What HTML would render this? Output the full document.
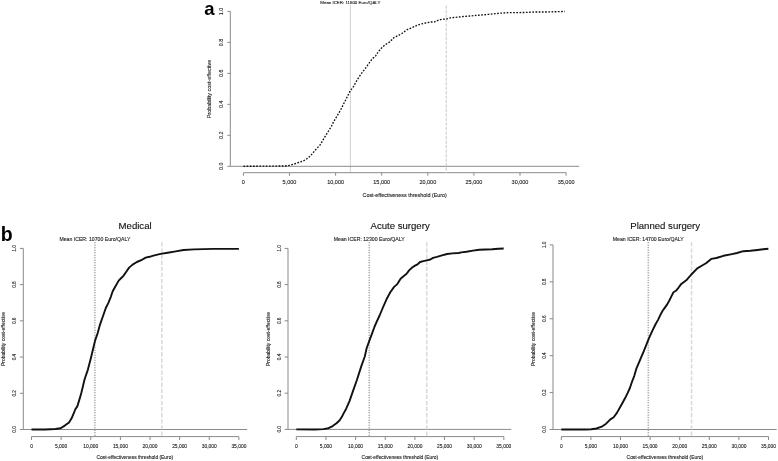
<!DOCTYPE html>
<html><head><meta charset="utf-8"><style>
html,body{margin:0;padding:0;background:#fff;width:778px;height:461px;overflow:hidden;}
svg{display:block;font-family:"Liberation Sans", sans-serif;will-change:transform;}
</style></head><body>
<svg width="778" height="461" viewBox="0 0 778 461">
<line x1="230.30" y1="166.30" x2="579.20" y2="166.30" stroke="#8a8a8a" stroke-width="1" />
<line x1="230.30" y1="11.40" x2="230.30" y2="166.30" stroke="#8a8a8a" stroke-width="1" />
<line x1="227.30" y1="166.30" x2="230.30" y2="166.30" stroke="#8a8a8a" stroke-width="1" />
<text x="221.00" y="166.30" font-size="5.4" text-anchor="middle" fill="#222" font-weight="normal" stroke="#222" stroke-width="0.12" transform="rotate(-90 221.00 166.30)" dominant-baseline="central">0.0</text>
<line x1="227.30" y1="135.32" x2="230.30" y2="135.32" stroke="#8a8a8a" stroke-width="1" />
<text x="221.00" y="135.32" font-size="5.4" text-anchor="middle" fill="#222" font-weight="normal" stroke="#222" stroke-width="0.12" transform="rotate(-90 221.00 135.32)" dominant-baseline="central">0.2</text>
<line x1="227.30" y1="104.34" x2="230.30" y2="104.34" stroke="#8a8a8a" stroke-width="1" />
<text x="221.00" y="104.34" font-size="5.4" text-anchor="middle" fill="#222" font-weight="normal" stroke="#222" stroke-width="0.12" transform="rotate(-90 221.00 104.34)" dominant-baseline="central">0.4</text>
<line x1="227.30" y1="73.36" x2="230.30" y2="73.36" stroke="#8a8a8a" stroke-width="1" />
<text x="221.00" y="73.36" font-size="5.4" text-anchor="middle" fill="#222" font-weight="normal" stroke="#222" stroke-width="0.12" transform="rotate(-90 221.00 73.36)" dominant-baseline="central">0.6</text>
<line x1="227.30" y1="42.38" x2="230.30" y2="42.38" stroke="#8a8a8a" stroke-width="1" />
<text x="221.00" y="42.38" font-size="5.4" text-anchor="middle" fill="#222" font-weight="normal" stroke="#222" stroke-width="0.12" transform="rotate(-90 221.00 42.38)" dominant-baseline="central">0.8</text>
<line x1="227.30" y1="11.40" x2="230.30" y2="11.40" stroke="#8a8a8a" stroke-width="1" />
<text x="221.00" y="11.40" font-size="5.4" text-anchor="middle" fill="#222" font-weight="normal" stroke="#222" stroke-width="0.12" transform="rotate(-90 221.00 11.40)" dominant-baseline="central">1.0</text>
<line x1="243.40" y1="172.70" x2="566.10" y2="172.70" stroke="#8a8a8a" stroke-width="1" />
<line x1="243.40" y1="172.70" x2="243.40" y2="175.70" stroke="#8a8a8a" stroke-width="1" />
<text x="243.40" y="184.40" font-size="5.5" text-anchor="middle" fill="#222" font-weight="normal" stroke="#222" stroke-width="0.12" >0</text>
<line x1="289.50" y1="172.70" x2="289.50" y2="175.70" stroke="#8a8a8a" stroke-width="1" />
<text x="289.50" y="184.40" font-size="5.5" text-anchor="middle" fill="#222" font-weight="normal" stroke="#222" stroke-width="0.12" >5,000</text>
<line x1="335.60" y1="172.70" x2="335.60" y2="175.70" stroke="#8a8a8a" stroke-width="1" />
<text x="335.60" y="184.40" font-size="5.5" text-anchor="middle" fill="#222" font-weight="normal" stroke="#222" stroke-width="0.12" >10,000</text>
<line x1="381.70" y1="172.70" x2="381.70" y2="175.70" stroke="#8a8a8a" stroke-width="1" />
<text x="381.70" y="184.40" font-size="5.5" text-anchor="middle" fill="#222" font-weight="normal" stroke="#222" stroke-width="0.12" >15,000</text>
<line x1="427.80" y1="172.70" x2="427.80" y2="175.70" stroke="#8a8a8a" stroke-width="1" />
<text x="427.80" y="184.40" font-size="5.5" text-anchor="middle" fill="#222" font-weight="normal" stroke="#222" stroke-width="0.12" >20,000</text>
<line x1="473.90" y1="172.70" x2="473.90" y2="175.70" stroke="#8a8a8a" stroke-width="1" />
<text x="473.90" y="184.40" font-size="5.5" text-anchor="middle" fill="#222" font-weight="normal" stroke="#222" stroke-width="0.12" >25,000</text>
<line x1="520.00" y1="172.70" x2="520.00" y2="175.70" stroke="#8a8a8a" stroke-width="1" />
<text x="520.00" y="184.40" font-size="5.5" text-anchor="middle" fill="#222" font-weight="normal" stroke="#222" stroke-width="0.12" >30,000</text>
<line x1="566.10" y1="172.70" x2="566.10" y2="175.70" stroke="#8a8a8a" stroke-width="1" />
<text x="566.10" y="184.40" font-size="5.5" text-anchor="middle" fill="#222" font-weight="normal" stroke="#222" stroke-width="0.12" >35,000</text>
<line x1="350.35" y1="5.40" x2="350.35" y2="172.70" stroke="#a0a0a0" stroke-width="1.0" stroke-dasharray="1 1"/>
<line x1="446.24" y1="5.40" x2="446.24" y2="172.70" stroke="#d0d0d0" stroke-width="1.2" stroke-dasharray="3.3 1.2"/>
<polyline points="243.4,166.3 285.0,166.0 289.9,165.4 293.8,164.2 298.7,162.5 302.6,161.2 305.5,159.7 308.4,157.7 310.9,155.3 313.8,151.9 317.2,147.9 319.7,145.5 322.1,141.6 325.0,136.7 328.0,131.8 331.4,126.3 333.4,122.1 336.9,116.2 340.5,110.2 344.1,103.0 347.1,97.1 350.1,91.1 353.6,86.3 357.0,80.2 361.0,74.0 365.3,68.5 369.1,63.1 372.4,58.7 375.6,56.0 378.3,51.7 382.1,47.4 385.4,44.6 389.7,41.9 394.0,37.6 398.5,35.4 401.9,33.5 405.0,31.2 408.1,29.1 411.2,28.0 414.7,26.4 418.1,24.9 421.2,24.0 424.3,23.3 427.4,22.6 430.9,22.0 434.3,22.0 437.4,20.6 440.5,19.6 444.3,19.1 447.0,18.9 450.5,17.8 457.2,17.2 463.5,16.5 469.8,16.0 476.1,15.4 482.4,14.9 488.7,14.3 495.0,13.7 501.3,13.1 507.6,12.7 518.4,12.6 527.3,12.4 534.3,12.0 545.8,12.0 556.6,11.7 564.8,11.5" fill="none" stroke="#111" stroke-width="1.35" stroke-linejoin="round" stroke-dasharray="1.7 1.5" stroke-linecap="butt"/>
<text x="208.50" y="89.00" font-size="5.4" text-anchor="middle" fill="#222" font-weight="normal" stroke="#222" stroke-width="0.12" transform="rotate(-90 208.50 89.00)" dominant-baseline="central">Probability cost-effective</text>
<text x="404.70" y="196.90" font-size="5.4" text-anchor="middle" fill="#222" font-weight="normal" stroke="#222" stroke-width="0.12" >Cost-effectiveness threshold (Euro)</text>
<text x="350.35" y="4.30" font-size="4.4" text-anchor="middle" fill="#222" font-weight="normal" stroke="#222" stroke-width="0.12" >Mean ICER: 11600 Euro/QALY</text>
<line x1="23.30" y1="429.50" x2="247.10" y2="429.50" stroke="#8a8a8a" stroke-width="1" />
<line x1="23.30" y1="248.40" x2="23.30" y2="429.50" stroke="#8a8a8a" stroke-width="1" />
<line x1="19.90" y1="429.50" x2="23.30" y2="429.50" stroke="#8a8a8a" stroke-width="1" />
<text x="14.20" y="429.50" font-size="4.6" text-anchor="middle" fill="#222" font-weight="normal" stroke="#222" stroke-width="0.12" transform="rotate(-90 14.20 429.50)" dominant-baseline="central">0.0</text>
<line x1="19.90" y1="393.28" x2="23.30" y2="393.28" stroke="#8a8a8a" stroke-width="1" />
<text x="14.20" y="393.28" font-size="4.6" text-anchor="middle" fill="#222" font-weight="normal" stroke="#222" stroke-width="0.12" transform="rotate(-90 14.20 393.28)" dominant-baseline="central">0.2</text>
<line x1="19.90" y1="357.06" x2="23.30" y2="357.06" stroke="#8a8a8a" stroke-width="1" />
<text x="14.20" y="357.06" font-size="4.6" text-anchor="middle" fill="#222" font-weight="normal" stroke="#222" stroke-width="0.12" transform="rotate(-90 14.20 357.06)" dominant-baseline="central">0.4</text>
<line x1="19.90" y1="320.84" x2="23.30" y2="320.84" stroke="#8a8a8a" stroke-width="1" />
<text x="14.20" y="320.84" font-size="4.6" text-anchor="middle" fill="#222" font-weight="normal" stroke="#222" stroke-width="0.12" transform="rotate(-90 14.20 320.84)" dominant-baseline="central">0.6</text>
<line x1="19.90" y1="284.62" x2="23.30" y2="284.62" stroke="#8a8a8a" stroke-width="1" />
<text x="14.20" y="284.62" font-size="4.6" text-anchor="middle" fill="#222" font-weight="normal" stroke="#222" stroke-width="0.12" transform="rotate(-90 14.20 284.62)" dominant-baseline="central">0.8</text>
<line x1="19.90" y1="248.40" x2="23.30" y2="248.40" stroke="#8a8a8a" stroke-width="1" />
<text x="14.20" y="248.40" font-size="4.6" text-anchor="middle" fill="#222" font-weight="normal" stroke="#222" stroke-width="0.12" transform="rotate(-90 14.20 248.40)" dominant-baseline="central">1.0</text>
<line x1="31.50" y1="436.60" x2="238.88" y2="436.60" stroke="#8a8a8a" stroke-width="1" />
<line x1="31.50" y1="436.60" x2="31.50" y2="440.00" stroke="#8a8a8a" stroke-width="1" />
<text x="31.50" y="447.60" font-size="4.9" text-anchor="middle" fill="#222" font-weight="normal" stroke="#222" stroke-width="0.12" >0</text>
<line x1="61.12" y1="436.60" x2="61.12" y2="440.00" stroke="#8a8a8a" stroke-width="1" />
<text x="61.12" y="447.60" font-size="4.9" text-anchor="middle" fill="#222" font-weight="normal" stroke="#222" stroke-width="0.12" >5,000</text>
<line x1="90.75" y1="436.60" x2="90.75" y2="440.00" stroke="#8a8a8a" stroke-width="1" />
<text x="90.75" y="447.60" font-size="4.9" text-anchor="middle" fill="#222" font-weight="normal" stroke="#222" stroke-width="0.12" >10,000</text>
<line x1="120.38" y1="436.60" x2="120.38" y2="440.00" stroke="#8a8a8a" stroke-width="1" />
<text x="120.38" y="447.60" font-size="4.9" text-anchor="middle" fill="#222" font-weight="normal" stroke="#222" stroke-width="0.12" >15,000</text>
<line x1="150.00" y1="436.60" x2="150.00" y2="440.00" stroke="#8a8a8a" stroke-width="1" />
<text x="150.00" y="447.60" font-size="4.9" text-anchor="middle" fill="#222" font-weight="normal" stroke="#222" stroke-width="0.12" >20,000</text>
<line x1="179.62" y1="436.60" x2="179.62" y2="440.00" stroke="#8a8a8a" stroke-width="1" />
<text x="179.62" y="447.60" font-size="4.9" text-anchor="middle" fill="#222" font-weight="normal" stroke="#222" stroke-width="0.12" >25,000</text>
<line x1="209.25" y1="436.60" x2="209.25" y2="440.00" stroke="#8a8a8a" stroke-width="1" />
<text x="209.25" y="447.60" font-size="4.9" text-anchor="middle" fill="#222" font-weight="normal" stroke="#222" stroke-width="0.12" >30,000</text>
<line x1="238.88" y1="436.60" x2="238.88" y2="440.00" stroke="#8a8a8a" stroke-width="1" />
<text x="238.88" y="447.60" font-size="4.9" text-anchor="middle" fill="#222" font-weight="normal" stroke="#222" stroke-width="0.12" >35,000</text>
<line x1="94.90" y1="242.30" x2="94.90" y2="436.60" stroke="#999" stroke-width="1.6" stroke-dasharray="1 1.5"/>
<line x1="161.85" y1="242.30" x2="161.85" y2="436.60" stroke="#d9d9d9" stroke-width="1.5" stroke-dasharray="4.3 1.8"/>
<polyline points="31.5,429.5 45.0,429.5 55.4,429.0 60.6,428.2 64.8,425.6 69.0,422.5 71.6,418.3 74.2,412.1 75.2,409.5 77.3,406.4 79.4,399.6 81.5,392.3 84.6,379.3 87.9,369.6 91.1,357.2 93.1,348.7 95.0,340.9 97.7,333.0 100.0,324.6 102.6,317.2 105.8,308.0 108.4,302.8 111.0,296.3 112.6,291.5 115.2,286.7 118.7,280.6 121.3,278.0 123.4,275.9 126.1,272.0 129.1,267.6 132.6,264.6 136.9,262.0 141.2,260.2 145.6,257.6 149.5,256.8 153.4,255.7 160.6,253.9 167.7,252.7 175.8,251.4 183.5,250.0 194.1,249.4 203.8,249.1 213.4,248.9 227.9,248.9 238.9,248.9" fill="none" stroke="#111" stroke-width="1.9" stroke-linejoin="round" />
<text x="3.10" y="339.00" font-size="5.0" text-anchor="middle" fill="#222" font-weight="normal" stroke="#222" stroke-width="0.12" transform="rotate(-90 3.10 339.00)" dominant-baseline="central">Probability cost-effective</text>
<text x="134.80" y="458.80" font-size="4.9" text-anchor="middle" fill="#222" font-weight="normal" stroke="#222" stroke-width="0.12" >Cost-effectiveness threshold (Euro)</text>
<text x="94.90" y="241.20" font-size="5.17" text-anchor="middle" fill="#222" font-weight="normal" stroke="#222" stroke-width="0.12" >Mean ICER: 10700 Euro/QALY</text>
<text x="135.10" y="229.00" font-size="9.6" text-anchor="middle" fill="#111" font-weight="normal" stroke="#111" stroke-width="0.12" >Medical</text>
<line x1="288.00" y1="429.40" x2="511.30" y2="429.40" stroke="#8a8a8a" stroke-width="1" />
<line x1="288.00" y1="248.40" x2="288.00" y2="429.40" stroke="#8a8a8a" stroke-width="1" />
<line x1="284.60" y1="429.40" x2="288.00" y2="429.40" stroke="#8a8a8a" stroke-width="1" />
<text x="279.40" y="429.40" font-size="4.6" text-anchor="middle" fill="#222" font-weight="normal" stroke="#222" stroke-width="0.12" transform="rotate(-90 279.40 429.40)" dominant-baseline="central">0.0</text>
<line x1="284.60" y1="393.20" x2="288.00" y2="393.20" stroke="#8a8a8a" stroke-width="1" />
<text x="279.40" y="393.20" font-size="4.6" text-anchor="middle" fill="#222" font-weight="normal" stroke="#222" stroke-width="0.12" transform="rotate(-90 279.40 393.20)" dominant-baseline="central">0.2</text>
<line x1="284.60" y1="357.00" x2="288.00" y2="357.00" stroke="#8a8a8a" stroke-width="1" />
<text x="279.40" y="357.00" font-size="4.6" text-anchor="middle" fill="#222" font-weight="normal" stroke="#222" stroke-width="0.12" transform="rotate(-90 279.40 357.00)" dominant-baseline="central">0.4</text>
<line x1="284.60" y1="320.80" x2="288.00" y2="320.80" stroke="#8a8a8a" stroke-width="1" />
<text x="279.40" y="320.80" font-size="4.6" text-anchor="middle" fill="#222" font-weight="normal" stroke="#222" stroke-width="0.12" transform="rotate(-90 279.40 320.80)" dominant-baseline="central">0.6</text>
<line x1="284.60" y1="284.60" x2="288.00" y2="284.60" stroke="#8a8a8a" stroke-width="1" />
<text x="279.40" y="284.60" font-size="4.6" text-anchor="middle" fill="#222" font-weight="normal" stroke="#222" stroke-width="0.12" transform="rotate(-90 279.40 284.60)" dominant-baseline="central">0.8</text>
<line x1="284.60" y1="248.40" x2="288.00" y2="248.40" stroke="#8a8a8a" stroke-width="1" />
<text x="279.40" y="248.40" font-size="4.6" text-anchor="middle" fill="#222" font-weight="normal" stroke="#222" stroke-width="0.12" transform="rotate(-90 279.40 248.40)" dominant-baseline="central">1.0</text>
<line x1="296.30" y1="436.60" x2="503.85" y2="436.60" stroke="#8a8a8a" stroke-width="1" />
<line x1="296.30" y1="436.60" x2="296.30" y2="440.00" stroke="#8a8a8a" stroke-width="1" />
<text x="296.30" y="447.60" font-size="4.9" text-anchor="middle" fill="#222" font-weight="normal" stroke="#222" stroke-width="0.12" >0</text>
<line x1="325.95" y1="436.60" x2="325.95" y2="440.00" stroke="#8a8a8a" stroke-width="1" />
<text x="325.95" y="447.60" font-size="4.9" text-anchor="middle" fill="#222" font-weight="normal" stroke="#222" stroke-width="0.12" >5,000</text>
<line x1="355.60" y1="436.60" x2="355.60" y2="440.00" stroke="#8a8a8a" stroke-width="1" />
<text x="355.60" y="447.60" font-size="4.9" text-anchor="middle" fill="#222" font-weight="normal" stroke="#222" stroke-width="0.12" >10,000</text>
<line x1="385.25" y1="436.60" x2="385.25" y2="440.00" stroke="#8a8a8a" stroke-width="1" />
<text x="385.25" y="447.60" font-size="4.9" text-anchor="middle" fill="#222" font-weight="normal" stroke="#222" stroke-width="0.12" >15,000</text>
<line x1="414.90" y1="436.60" x2="414.90" y2="440.00" stroke="#8a8a8a" stroke-width="1" />
<text x="414.90" y="447.60" font-size="4.9" text-anchor="middle" fill="#222" font-weight="normal" stroke="#222" stroke-width="0.12" >20,000</text>
<line x1="444.55" y1="436.60" x2="444.55" y2="440.00" stroke="#8a8a8a" stroke-width="1" />
<text x="444.55" y="447.60" font-size="4.9" text-anchor="middle" fill="#222" font-weight="normal" stroke="#222" stroke-width="0.12" >25,000</text>
<line x1="474.20" y1="436.60" x2="474.20" y2="440.00" stroke="#8a8a8a" stroke-width="1" />
<text x="474.20" y="447.60" font-size="4.9" text-anchor="middle" fill="#222" font-weight="normal" stroke="#222" stroke-width="0.12" >30,000</text>
<line x1="503.85" y1="436.60" x2="503.85" y2="440.00" stroke="#8a8a8a" stroke-width="1" />
<text x="503.85" y="447.60" font-size="4.9" text-anchor="middle" fill="#222" font-weight="normal" stroke="#222" stroke-width="0.12" >35,000</text>
<line x1="369.24" y1="242.30" x2="369.24" y2="436.60" stroke="#999" stroke-width="1.6" stroke-dasharray="1 1.5"/>
<line x1="426.76" y1="242.30" x2="426.76" y2="436.60" stroke="#d9d9d9" stroke-width="1.5" stroke-dasharray="4.3 1.8"/>
<polyline points="296.3,429.4 315.0,429.5 323.3,429.1 328.5,428.2 332.7,426.1 336.5,423.3 339.5,420.5 341.9,416.8 343.5,413.6 346.2,408.7 349.5,401.1 352.7,391.9 356.8,380.2 361.5,365.6 364.8,356.5 366.7,348.0 369.3,340.9 372.0,333.7 374.6,326.5 377.2,320.7 379.6,315.5 382.5,308.5 386.5,299.3 390.3,292.3 394.1,286.9 397.3,284.1 400.6,278.7 403.8,276.0 406.6,273.8 409.3,270.1 412.5,267.3 415.0,265.6 417.6,264.3 420.1,262.0 423.4,261.1 426.6,260.4 430.4,259.5 433.0,257.9 436.9,256.9 442.0,255.3 447.1,254.0 452.3,253.4 458.7,253.0 461.3,252.4 466.4,251.8 472.9,250.6 479.3,249.8 485.7,249.5 492.1,249.2 498.6,248.7 503.7,248.5" fill="none" stroke="#111" stroke-width="1.9" stroke-linejoin="round" />
<text x="267.80" y="339.00" font-size="5.0" text-anchor="middle" fill="#222" font-weight="normal" stroke="#222" stroke-width="0.12" transform="rotate(-90 267.80 339.00)" dominant-baseline="central">Probability cost-effective</text>
<text x="399.90" y="458.80" font-size="4.9" text-anchor="middle" fill="#222" font-weight="normal" stroke="#222" stroke-width="0.12" >Cost-effectiveness threshold (Euro)</text>
<text x="369.24" y="241.20" font-size="5.17" text-anchor="middle" fill="#222" font-weight="normal" stroke="#222" stroke-width="0.12" >Mean ICER: 12300 Euro/QALY</text>
<text x="400.10" y="229.00" font-size="9.6" text-anchor="middle" fill="#111" font-weight="normal" stroke="#111" stroke-width="0.12" >Acute surgery</text>
<line x1="553.00" y1="429.50" x2="776.70" y2="429.50" stroke="#8a8a8a" stroke-width="1" />
<line x1="553.00" y1="244.90" x2="553.00" y2="429.50" stroke="#8a8a8a" stroke-width="1" />
<line x1="549.60" y1="429.50" x2="553.00" y2="429.50" stroke="#8a8a8a" stroke-width="1" />
<text x="544.40" y="429.50" font-size="4.6" text-anchor="middle" fill="#222" font-weight="normal" stroke="#222" stroke-width="0.12" transform="rotate(-90 544.40 429.50)" dominant-baseline="central">0.0</text>
<line x1="549.60" y1="392.58" x2="553.00" y2="392.58" stroke="#8a8a8a" stroke-width="1" />
<text x="544.40" y="392.58" font-size="4.6" text-anchor="middle" fill="#222" font-weight="normal" stroke="#222" stroke-width="0.12" transform="rotate(-90 544.40 392.58)" dominant-baseline="central">0.2</text>
<line x1="549.60" y1="355.66" x2="553.00" y2="355.66" stroke="#8a8a8a" stroke-width="1" />
<text x="544.40" y="355.66" font-size="4.6" text-anchor="middle" fill="#222" font-weight="normal" stroke="#222" stroke-width="0.12" transform="rotate(-90 544.40 355.66)" dominant-baseline="central">0.4</text>
<line x1="549.60" y1="318.74" x2="553.00" y2="318.74" stroke="#8a8a8a" stroke-width="1" />
<text x="544.40" y="318.74" font-size="4.6" text-anchor="middle" fill="#222" font-weight="normal" stroke="#222" stroke-width="0.12" transform="rotate(-90 544.40 318.74)" dominant-baseline="central">0.6</text>
<line x1="549.60" y1="281.82" x2="553.00" y2="281.82" stroke="#8a8a8a" stroke-width="1" />
<text x="544.40" y="281.82" font-size="4.6" text-anchor="middle" fill="#222" font-weight="normal" stroke="#222" stroke-width="0.12" transform="rotate(-90 544.40 281.82)" dominant-baseline="central">0.8</text>
<line x1="549.60" y1="244.90" x2="553.00" y2="244.90" stroke="#8a8a8a" stroke-width="1" />
<text x="544.40" y="244.90" font-size="4.6" text-anchor="middle" fill="#222" font-weight="normal" stroke="#222" stroke-width="0.12" transform="rotate(-90 544.40 244.90)" dominant-baseline="central">1.0</text>
<line x1="561.30" y1="436.60" x2="768.50" y2="436.60" stroke="#8a8a8a" stroke-width="1" />
<line x1="561.30" y1="436.60" x2="561.30" y2="440.00" stroke="#8a8a8a" stroke-width="1" />
<text x="561.30" y="447.60" font-size="4.9" text-anchor="middle" fill="#222" font-weight="normal" stroke="#222" stroke-width="0.12" >0</text>
<line x1="590.90" y1="436.60" x2="590.90" y2="440.00" stroke="#8a8a8a" stroke-width="1" />
<text x="590.90" y="447.60" font-size="4.9" text-anchor="middle" fill="#222" font-weight="normal" stroke="#222" stroke-width="0.12" >5,000</text>
<line x1="620.50" y1="436.60" x2="620.50" y2="440.00" stroke="#8a8a8a" stroke-width="1" />
<text x="620.50" y="447.60" font-size="4.9" text-anchor="middle" fill="#222" font-weight="normal" stroke="#222" stroke-width="0.12" >10,000</text>
<line x1="650.10" y1="436.60" x2="650.10" y2="440.00" stroke="#8a8a8a" stroke-width="1" />
<text x="650.10" y="447.60" font-size="4.9" text-anchor="middle" fill="#222" font-weight="normal" stroke="#222" stroke-width="0.12" >15,000</text>
<line x1="679.70" y1="436.60" x2="679.70" y2="440.00" stroke="#8a8a8a" stroke-width="1" />
<text x="679.70" y="447.60" font-size="4.9" text-anchor="middle" fill="#222" font-weight="normal" stroke="#222" stroke-width="0.12" >20,000</text>
<line x1="709.30" y1="436.60" x2="709.30" y2="440.00" stroke="#8a8a8a" stroke-width="1" />
<text x="709.30" y="447.60" font-size="4.9" text-anchor="middle" fill="#222" font-weight="normal" stroke="#222" stroke-width="0.12" >25,000</text>
<line x1="738.90" y1="436.60" x2="738.90" y2="440.00" stroke="#8a8a8a" stroke-width="1" />
<text x="738.90" y="447.60" font-size="4.9" text-anchor="middle" fill="#222" font-weight="normal" stroke="#222" stroke-width="0.12" >30,000</text>
<line x1="768.50" y1="436.60" x2="768.50" y2="440.00" stroke="#8a8a8a" stroke-width="1" />
<text x="768.50" y="447.60" font-size="4.9" text-anchor="middle" fill="#222" font-weight="normal" stroke="#222" stroke-width="0.12" >35,000</text>
<line x1="648.32" y1="242.30" x2="648.32" y2="436.60" stroke="#999" stroke-width="1.6" stroke-dasharray="1 1.5"/>
<line x1="691.54" y1="242.30" x2="691.54" y2="436.60" stroke="#d9d9d9" stroke-width="1.5" stroke-dasharray="4.3 1.8"/>
<polyline points="561.3,429.5 585.0,429.5 591.3,429.3 596.5,428.5 601.7,426.7 606.1,423.7 610.4,419.4 613.7,417.2 616.9,412.9 620.2,407.0 622.3,403.2 625.0,398.3 627.7,392.9 629.9,388.0 632.1,381.5 634.2,376.1 636.5,368.3 640.4,359.1 643.7,351.3 646.3,344.8 648.9,338.3 652.2,331.1 655.4,324.5 657.9,320.1 659.8,316.2 662.3,311.3 664.7,307.9 667.2,304.4 669.6,300.0 671.5,296.1 673.5,292.2 675.9,290.8 678.4,287.8 681.3,283.9 686.9,279.7 691.3,274.5 697.3,268.4 701.7,265.8 706.0,263.2 711.2,258.9 716.4,258.0 723.4,255.8 732.0,254.1 737.0,253.0 743.3,251.2 750.4,250.8 757.5,250.0 763.1,249.3 768.4,248.7" fill="none" stroke="#111" stroke-width="1.9" stroke-linejoin="round" />
<text x="532.80" y="339.00" font-size="5.0" text-anchor="middle" fill="#222" font-weight="normal" stroke="#222" stroke-width="0.12" transform="rotate(-90 532.80 339.00)" dominant-baseline="central">Probability cost-effective</text>
<text x="664.90" y="458.80" font-size="4.9" text-anchor="middle" fill="#222" font-weight="normal" stroke="#222" stroke-width="0.12" >Cost-effectiveness threshold (Euro)</text>
<text x="648.32" y="241.20" font-size="5.17" text-anchor="middle" fill="#222" font-weight="normal" stroke="#222" stroke-width="0.12" >Mean ICER: 14700 Euro/QALY</text>
<text x="665.20" y="229.00" font-size="9.6" text-anchor="middle" fill="#111" font-weight="normal" stroke="#111" stroke-width="0.12" >Planned surgery</text>
<text x="204.30" y="15.30" font-size="18.5" text-anchor="start" fill="#000" font-weight="bold" >a</text>
<text x="0.80" y="240.80" font-size="19.5" text-anchor="start" fill="#000" font-weight="bold" >b</text>
</svg>
</body></html>
